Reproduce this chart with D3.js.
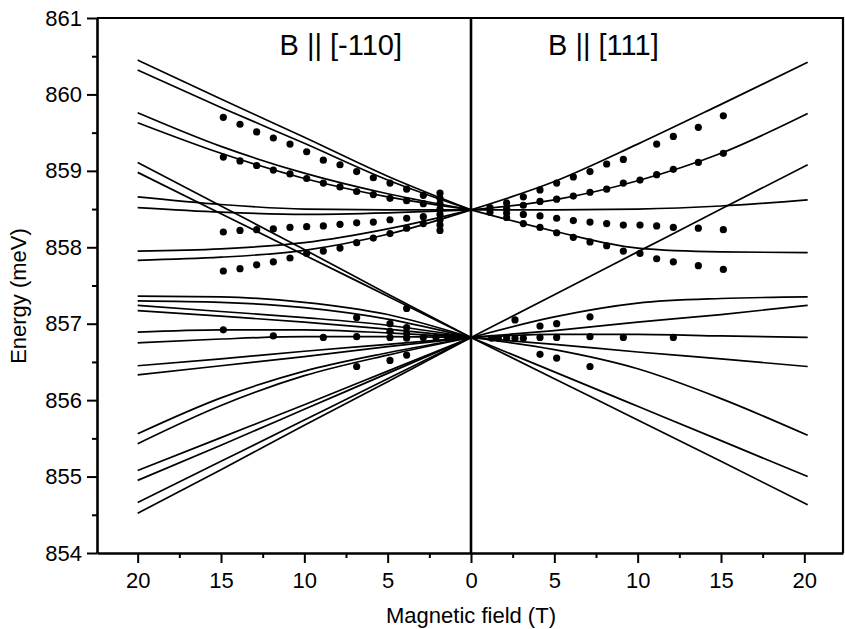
<!DOCTYPE html>
<html>
<head>
<meta charset="utf-8">
<script src="https://cdn.jsdelivr.net/npm/d3@7"></script>
<style>
body{margin:0;background:#fff;}
svg{display:block;font-family:"Liberation Sans",Arial,Helvetica,sans-serif;}
</style>
</head>
<body>
<div id="chart"></div>
<script>
// field values (T) where the fitted curves were read
const fieldsLeft=[0,5,10,15,20];
const fieldsRight=[0,5,10,15,20.2];

// B || [-110] fitted curves, energy (meV) at fieldsLeft
const curvesLeft=[
    [858.49,858.93,859.44,859.94,860.45],
    [858.49,858.88,859.36,859.83,860.32],
    [858.49,858.70,858.97,859.32,859.76],
    [858.49,858.66,858.90,859.23,859.63],
    [858.49,858.49,858.50,858.56,858.66],
    [858.49,858.45,858.43,858.46,858.52],
    [858.49,858.24,858.06,857.98,857.95],
    [858.49,858.17,857.96,857.87,857.83],
    [856.82,857.39,857.97,858.54,859.11],
    [856.82,857.36,857.90,858.44,858.98],
    [856.82,857.12,857.28,857.35,857.36],
    [856.82,857.06,857.21,857.28,857.30],
    [856.82,856.98,857.08,857.16,857.24],
    [856.82,856.93,857.02,857.10,857.17],
    [856.82,856.88,856.92,856.92,856.89],
    [856.82,856.83,856.83,856.80,856.75],
    [856.82,856.73,856.64,856.54,856.45],
    [856.82,856.70,856.57,856.45,856.33],
    [856.82,856.62,856.38,856.03,855.56],
    [856.82,856.59,856.32,855.93,855.43],
    [856.82,856.38,855.94,855.51,855.08],
    [856.82,856.35,855.88,855.41,854.95],
    [856.82,856.28,855.74,855.20,854.66],
    [856.82,856.24,855.67,855.09,854.52]
];

// B || [111] fitted curves, energy (meV) at fieldsRight
const curvesRight=[
    [858.49,858.86,859.35,859.87,860.42],
    [858.49,858.62,858.87,859.23,859.75],
    [858.49,858.49,858.50,858.54,858.62],
    [858.49,858.21,857.99,857.94,857.93],
    [856.82,857.38,857.94,858.50,859.08],
    [856.82,857.09,857.27,857.33,857.35],
    [856.82,856.91,857.02,857.12,857.24],
    [856.82,856.86,856.86,856.84,856.82],
    [856.82,856.73,856.63,856.54,856.44],
    [856.82,856.66,856.41,856.02,855.54],
    [856.82,856.37,855.92,855.47,855.00],
    [856.82,856.28,855.74,855.20,854.63]
];

// measured points, B || [-110]
const dotFieldsLeft=[14.86,13.86,12.86,11.86,10.86,9.86,8.86,7.86,6.86,5.86,4.86,3.86,2.86];
const leftRow1=[859.70,859.61,859.51,859.43,859.35,859.25,859.14,859.08,858.99,858.91,858.84,858.76,858.68];
const leftRow2=[859.18,859.13,859.07,859.01,858.96,858.90,858.84,858.79,858.73,858.69,858.64,858.61,858.57];
const leftRow3=[858.20,858.22,858.23,858.24,858.26,858.27,858.28,858.30,858.32,858.33,858.36,858.38,858.40];
const leftRow4=[857.69,857.72,857.77,857.81,857.86,857.92,857.95,857.99,858.06,858.12,858.18,858.25,858.31];
const leftExtra=[
    [1.86,858.71],[1.86,858.64],[1.86,858.57],[1.86,858.50],[1.86,858.43],[1.86,858.36],[1.86,858.29],[1.86,858.22],
    [14.86,856.92],[11.86,856.84],[8.86,856.82],
    [6.86,857.08],[6.86,856.83],[6.86,856.44],
    [4.86,857.00],[4.86,856.90],[4.86,856.82],[4.86,856.52],
    [3.86,857.20],[3.86,856.95],[3.86,856.87],[3.86,856.81],[3.86,856.59],
    [2.86,856.82],[2.1,856.82],[1.4,856.82]
];

// measured points, B || [111]
const dotFieldsRight=[3.14,4.14,5.14,6.14,7.14,8.14,9.14,10.14,11.14,12.14,13.64,15.14];
const rightRow1Fields=[3.14,4.14,5.14,6.14,7.14,8.14,9.14,11.14,12.14,13.64,15.14];
const rightRow1=[858.66,858.75,858.84,858.92,858.99,859.09,859.15,859.35,859.45,859.57,859.72];
const rightRow2=[858.55,858.60,858.63,858.67,858.72,858.76,858.84,858.88,858.95,859.02,859.11,859.23];
const rightRow3=[858.43,858.41,858.38,858.35,858.33,858.31,858.29,858.29,858.28,858.26,858.25,858.23];
const rightRow4=[858.31,858.26,858.19,858.13,858.07,858.02,857.95,857.92,857.85,857.81,857.76,857.71];
const rightExtra=[
    [2.14,858.58],[2.14,858.51],[2.14,858.45],[2.14,858.39],[1.14,858.52],[1.14,858.46],
    [2.64,857.05],[4.14,856.97],[4.14,856.82],[4.14,856.60],
    [5.14,857.00],[5.14,856.82],[5.14,856.55],
    [7.14,857.09],[7.14,856.83],[7.14,856.44],
    [9.14,856.82],[12.14,856.82],
    [1.24,856.81],[1.64,856.81],[2.14,856.81],[2.64,856.81],[3.14,856.81]
];

const xTicks=[-20,-15,-10,-5,0,5,10,15,20];
const xMinorTicks=[-17.5,-12.5,-7.5,-2.5,2.5,7.5,12.5,17.5];
const yTicks=[854,855,856,857,858,859,860,861];
const yMinorTicks=[854.5,855.5,856.5,857.5,858.5,859.5,860.5];
const panelLabels=["B || [-110]","B || [111]"];

let width=845;
let height=629;
let margin={top:18,right:2,bottom:76,left:97};

let xScale=d3.scaleLinear().domain([-22.44,22.32]).range([margin.left,width-margin.right]);
let yScale=d3.scaleLinear().domain([854,861]).range([height-margin.bottom,margin.top]);

var svg=d3.select("#chart")
    .append("svg")
    .attr("width",width)
    .attr("height",height);

svg.append("rect").attr("width",width).attr("height",height).attr("fill","#fff");

var line=d3.line()
    .x(d=>xScale(d[0]))
    .y(d=>yScale(d[1]))
    .curve(d3.curveMonotoneX);

// sign=-1 puts the [-110] panel on the left
function drawCurves(curves,fields,sign){
    svg.append("g")
    .selectAll("path")
    .data(curves)
    .enter()
    .append("path")
    .attr("d",c=>line(fields.map((b,i)=>[sign*b,c[i]]).sort((p,q)=>p[0]-q[0])))
    .attr("fill","none")
    .attr("stroke","#000")
    .attr("stroke-width",1.7);
}
drawCurves(curvesLeft,fieldsLeft,-1);
drawCurves(curvesRight,fieldsRight,1);

function rowPoints(fields,row){
    return fields.map((b,i)=>[b,row[i]]);
}
let pointsLeft=[].concat(
    rowPoints(dotFieldsLeft,leftRow1),
    rowPoints(dotFieldsLeft,leftRow2),
    rowPoints(dotFieldsLeft,leftRow3),
    rowPoints(dotFieldsLeft,leftRow4),
    leftExtra
).map(d=>[-d[0],d[1]]);
let pointsRight=[].concat(
    rowPoints(rightRow1Fields,rightRow1),
    rowPoints(dotFieldsRight,rightRow2),
    rowPoints(dotFieldsRight,rightRow3),
    rowPoints(dotFieldsRight,rightRow4),
    rightExtra
);

svg.append("g")
    .selectAll("circle")
    .data(pointsLeft.concat(pointsRight))
    .enter()
    .append("circle")
    .attr("cx",d=>xScale(d[0]))
    .attr("cy",d=>yScale(d[1]))
    .attr("r",3.6)
    .attr("fill","#000");

// zero field divider
svg.append("line")
    .attr("x1",xScale(0)).attr("x2",xScale(0))
    .attr("y1",yScale(861)).attr("y2",yScale(854))
    .attr("stroke","#000").attr("stroke-width",2.6);

// top and right frame
svg.append("path")
    .attr("d","M"+xScale.range()[0]+","+yScale(861)+"H"+xScale.range()[1]+"V"+yScale(854))
    .attr("fill","none").attr("stroke","#000").attr("stroke-width",2.2);

//set the axes
var xAxis=d3.axisBottom(xScale)
    .tickValues(xTicks)
    .tickFormat(d=>Math.abs(d))
    .tickSizeInner(10)
    .tickSizeOuter(0)
    .tickPadding(9);
var xMinor=d3.axisBottom(xScale).tickValues(xMinorTicks).tickSize(5).tickFormat("");
var yAxis=d3.axisLeft(yScale)
    .tickValues(yTicks)
    .tickFormat(d3.format("d"))
    .tickSizeInner(10)
    .tickSizeOuter(0)
    .tickPadding(5);
var yMinor=d3.axisLeft(yScale).tickValues(yMinorTicks).tickSize(5).tickFormat("");

let gx=svg.append("g").attr("transform","translate(0,"+yScale(854)+")");
gx.append("g").call(xMinor).select(".domain").remove();
gx.append("g").call(xAxis);
let gy=svg.append("g").attr("transform","translate("+xScale.range()[0]+",0)");
gy.append("g").call(yMinor).select(".domain").remove();
gy.append("g").call(yAxis);

svg.selectAll(".domain").attr("stroke","#000").attr("stroke-width",2.6);
svg.selectAll(".tick line").attr("stroke","#000").attr("stroke-width",2);
svg.selectAll(".tick text")
    .attr("fill","#000")
    .attr("font-size",22)
    .attr("font-family","Liberation Sans, Arial, sans-serif");

// axis titles
svg.append("text")
    .attr("x",xScale(0))
    .attr("y",623)
    .attr("text-anchor","middle")
    .attr("font-size",22)
    .text("Magnetic field (T)");
svg.append("text")
    .attr("transform","translate(26,296) rotate(-90)")
    .attr("text-anchor","middle")
    .attr("font-size",22)
    .text("Energy (meV)");

// panel labels
svg.selectAll("text.panel")
    .data(panelLabels)
    .enter()
    .append("text")
    .attr("class","panel")
    .attr("x",(d,i)=>i===0?279.5:548)
    .attr("y",55)
    .attr("font-size",29)
    .text(d=>d);
</script>
</body>
</html>
